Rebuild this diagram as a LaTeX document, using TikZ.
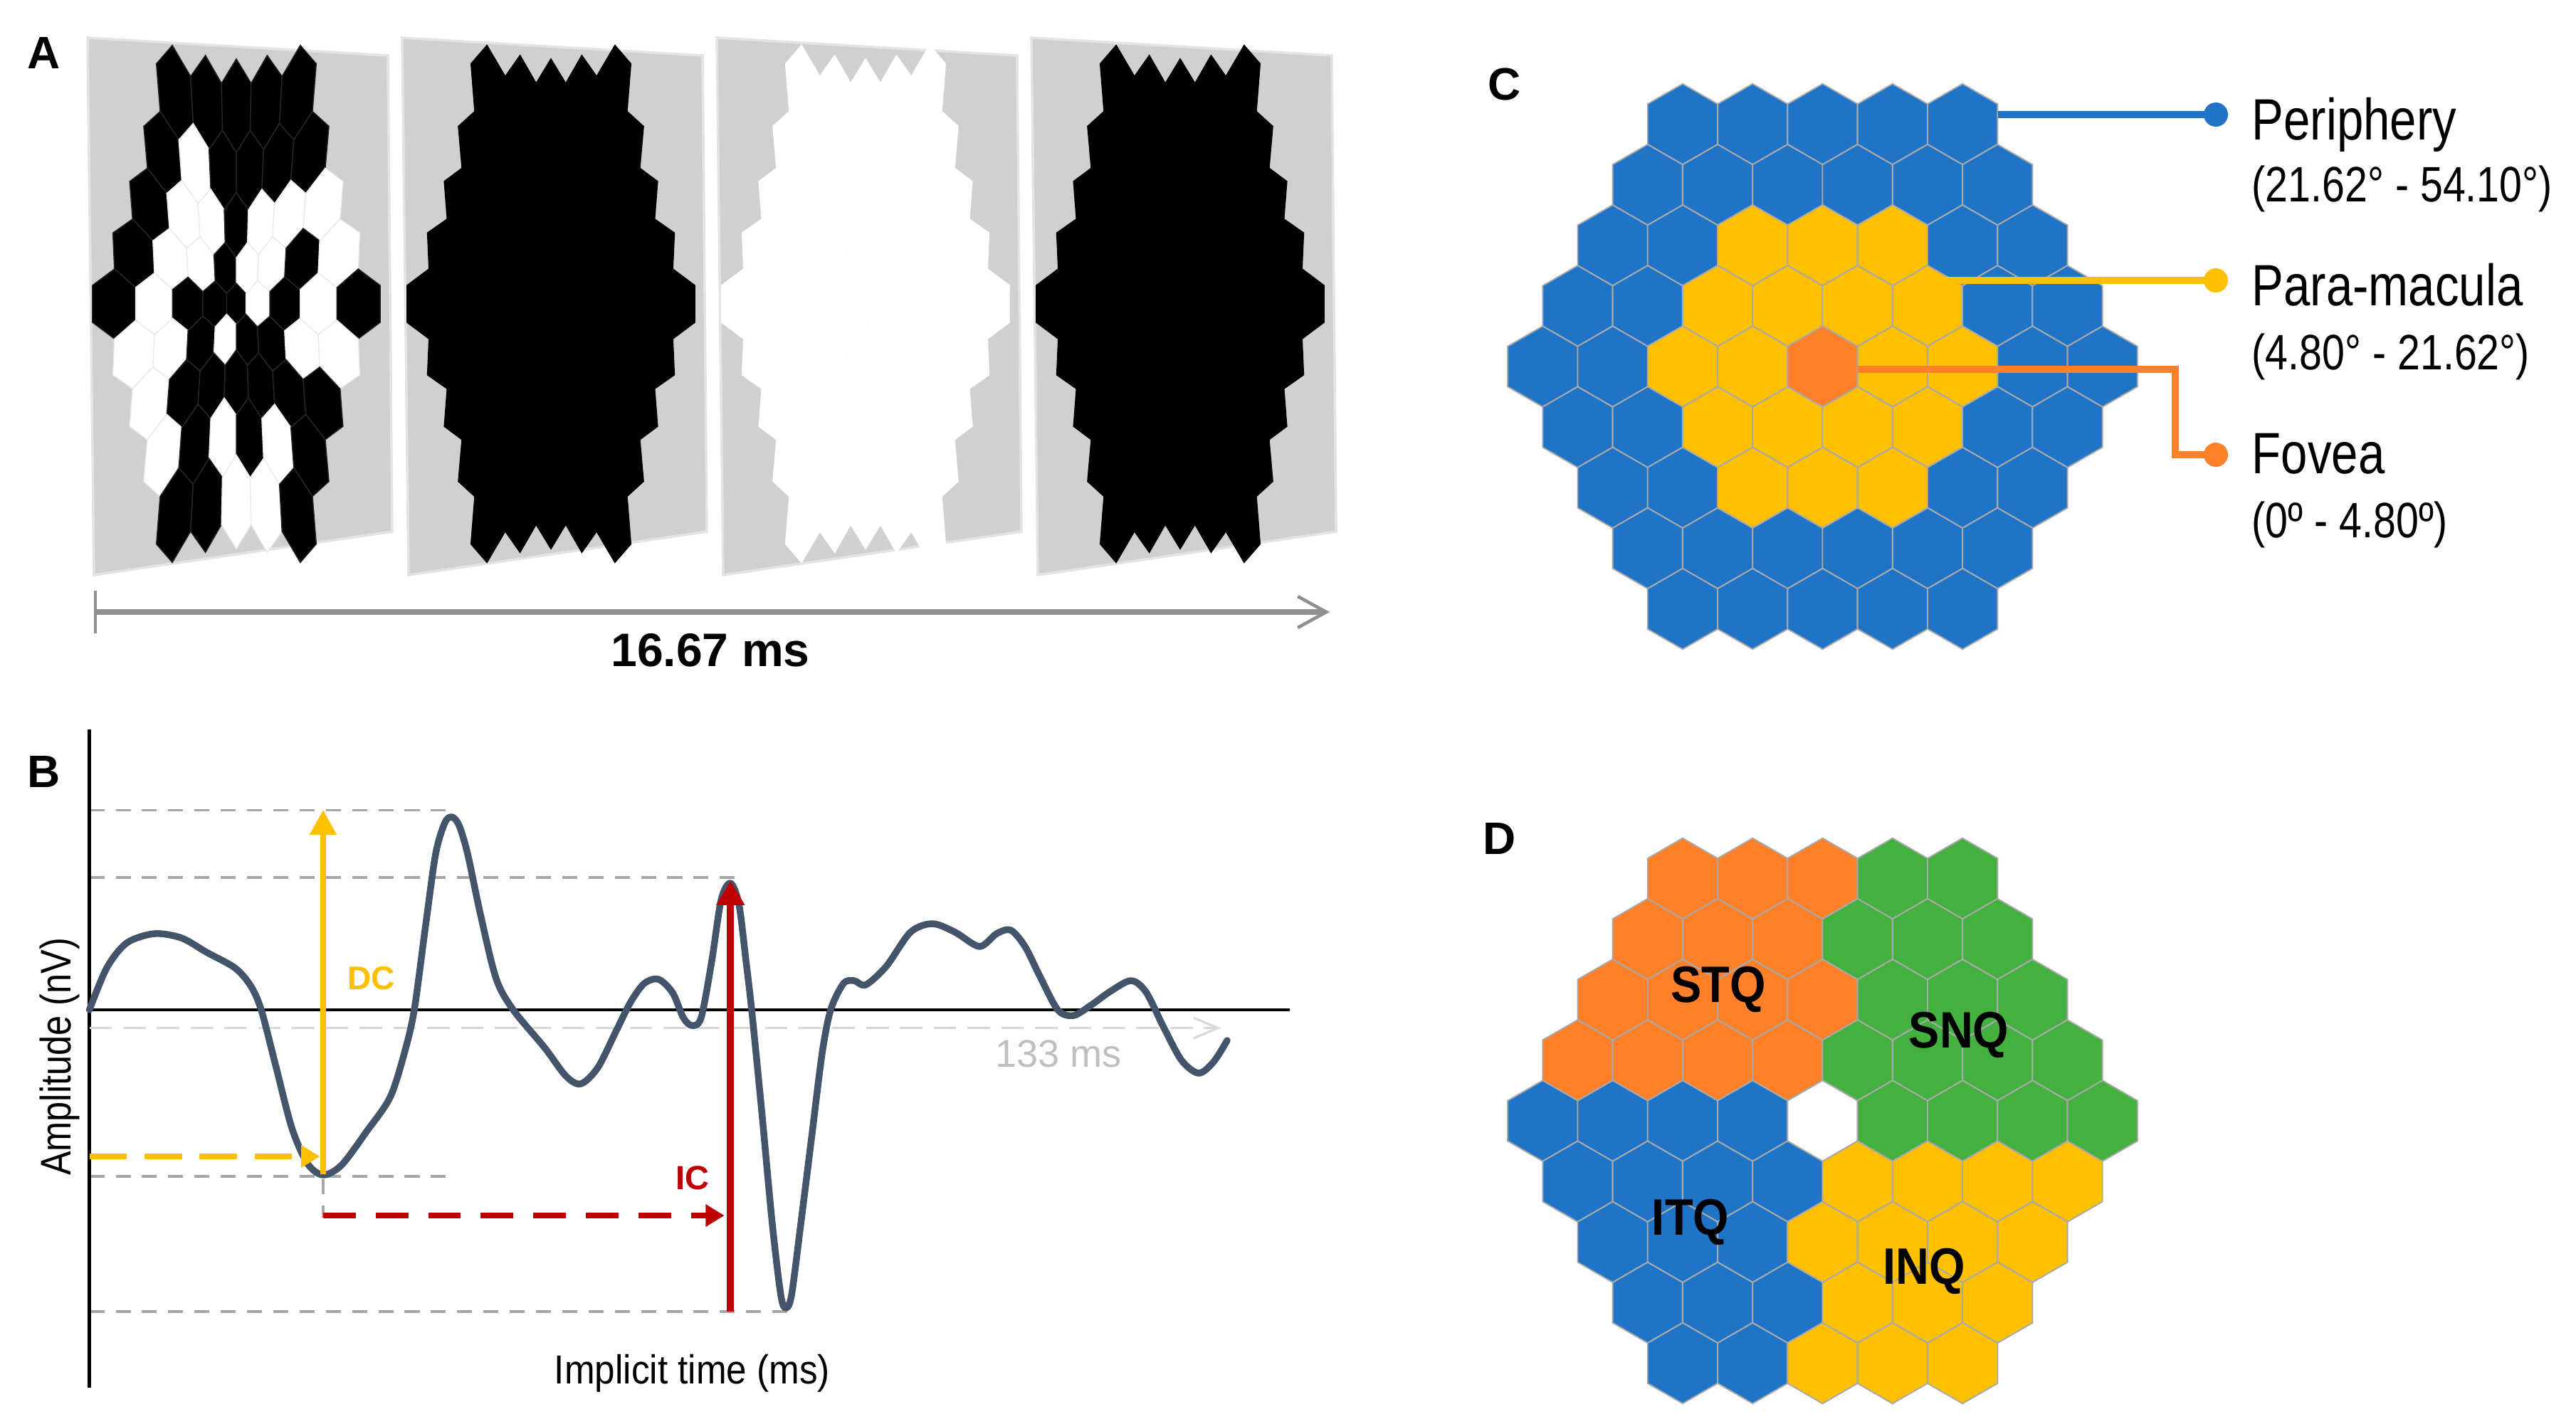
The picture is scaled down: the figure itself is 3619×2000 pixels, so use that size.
\documentclass[tikz,border=0pt]{standalone}
\usepackage{fontspec}
\setmainfont{Liberation Sans}
\newfontfamily\narrowA[FakeStretch=0.82]{Liberation Sans}
\newfontfamily\narrowB[FakeStretch=0.9]{Liberation Sans}
\newfontfamily\narrowC[FakeStretch=0.84]{Liberation Sans}
\usetikzlibrary{arrows.meta}
\definecolor{hb}{HTML}{2074C8}
\definecolor{hy}{HTML}{FFC000}
\definecolor{ho}{HTML}{FF8028}
\definecolor{hg}{HTML}{43B040}
\definecolor{hw}{HTML}{FFFFFF}
\definecolor{hexline}{HTML}{A9A9A9}
\definecolor{fB}{HTML}{000000}
\definecolor{fW}{HTML}{FFFFFF}
\definecolor{sB}{HTML}{262626}
\definecolor{sW}{HTML}{EBEBEB}
\definecolor{frgray}{HTML}{D0D0D0}
\definecolor{frborder}{HTML}{E4E4E4}
\definecolor{curvecol}{HTML}{44546A}
\definecolor{dcyel}{HTML}{FFC000}
\definecolor{icred}{HTML}{C00000}
\definecolor{dashgray}{HTML}{A6A6A6}
\definecolor{lightarr}{HTML}{D9D9D9}
\definecolor{msgray}{HTML}{BFBFBF}
\definecolor{timegray}{HTML}{8F8F8F}
\newcommand\fsz[1]{\fontsize{#1}{#1}\selectfont}
% distorted stimulus hexagon: #1 centre x, #2 #3 unit-grid centre, #4 fill, #5 seam
\newcommand{\fhex}[5]{%
 \path[fill=#4,draw=#5,line width=0.4pt]
  ({#1+fmx(#2,#3-1)},{427+fmy(#2,#3-1)}) --
  ({#1+fmx(#2+0.866,#3-0.5)},{427+fmy(#2+0.866,#3-0.5)}) --
  ({#1+fmx(#2+0.866,#3+0.5)},{427+fmy(#2+0.866,#3+0.5)}) --
  ({#1+fmx(#2,#3+1)},{427+fmy(#2,#3+1)}) --
  ({#1+fmx(#2-0.866,#3+0.5)},{427+fmy(#2-0.866,#3+0.5)}) --
  ({#1+fmx(#2-0.866,#3-0.5)},{427+fmy(#2-0.866,#3-0.5)}) -- cycle;}
% regular hexagon
\newcommand{\rhex}[3]{%
 \path[fill=#3,draw=hexline,line width=0.55pt]
  ({#1},{#2-56.75}) -- ({#1+49.15},{#2-28.375}) -- ({#1+49.15},{#2+28.375}) --
  ({#1},{#2+56.75}) -- ({#1-49.15},{#2+28.375}) -- ({#1-49.15},{#2-28.375}) -- cycle;}
\tikzset{
  gdash/.style={dashgray, line width=1pt, dash pattern=on 6pt off 4.5pt},
  plab/.style={font=\bfseries\fsz{18.2pt}, anchor=base, inner sep=0pt},
  legA/.style={font=\narrowA\fsz{23.3pt}, anchor=base west, inner sep=0pt},
  legB/.style={font=\narrowA\fsz{19.9pt}, anchor=base west, inner sep=0pt},
  quad/.style={font=\narrowB\bfseries\fsz{20.5pt}, anchor=base, inner sep=0pt},
  legdot/.style={circle, inner sep=0pt, minimum size=3.4mm},
}
\begin{document}
\begin{tikzpicture}[x=0.1mm,y=-0.1mm,
  declare function={fmx(\a,\b)=\a*(14.12+1.514*veclen(\a,\b));
                    fmy(\a,\b)=\b*(25.6+3.37*veclen(\a,\b));}]
\useasboundingbox (0,0) rectangle (3619,2000);

% ---------------- Panel A ----------------
\node[plab] (labA) at (62,96) {A};
\foreach \k in {0,1,2,3} {
  \pgfmathsetmacro\dx{442*\k}
  \path[fill=frgray,draw=frborder,line width=1pt]
    ({123+\dx},53) -- ({545+\dx},78) -- ({551+\dx},747) -- ({132+\dx},808) -- cycle;
}
% frame 1: black/white pattern
\foreach \r/\cols in {0/{B,B,B,B,B},1/{B,W,B,B,B,B},2/{B,W,W,B,W,W,W},
   3/{B,W,W,B,W,W,B,W},4/{B,W,B,B,B,W,B,W,B},5/{W,W,B,W,B,B,W,W},
   6/{W,B,B,B,B,B,B},7/{W,B,W,B,W,B},8/{B,B,W,W,B}} {
  \foreach \c [count=\i from 0] in \cols {
    \pgfmathsetmacro\n{9-abs(\r-4)}
    \pgfmathsetmacro\ux{1.7320508*(\i-(\n-1)/2)}
    \pgfmathsetmacro\uy{1.5*(\r-4)}
    \fhex{332}{\ux}{\uy}{f\c}{s\c}
  }
}
% frames 2-4: uniform
\foreach \k/\col in {1/fB,2/fW,3/fB} {
  \pgfmathsetmacro\Xc{332+442*\k}
  \foreach \r in {0,...,8} {
    \pgfmathtruncatemacro\nm{8-abs(\r-4)}
    \foreach \i in {0,...,\nm} {
      \pgfmathsetmacro\ux{1.7320508*(\i-\nm/2)}
      \pgfmathsetmacro\uy{1.5*(\r-4)}
      \fhex{\Xc}{\ux}{\uy}{\col}{\col}
    }
  }
}
\coordinate (t0) at (134,860);
\coordinate (t1) at (1868,860);
\draw[timegray, line width=2.2pt, -{Straight Barb[length=11.4pt,width=12.5pt,line width=1.3pt]}] (t0) -- (t1);
\draw[timegray, line width=1pt] (134,830) -- (134,890);
\node[font=\bfseries\fsz{18.8pt}, anchor=base, inner sep=0pt] (tlab) at (998,936) {16.67 ms};

% ---------------- Panel B ----------------
\node[plab] (labB) at (62,1106) {B};
\draw[gdash] (125.6,1138.4) -- (637.8,1138.4);
\draw[gdash] (125.6,1232.8) -- (1046,1232.8);
\draw[gdash] (125.6,1653) -- (634.6,1653);
\draw[gdash] (125.6,1843) -- (1118,1843);
\draw[gdash] (454,1657) -- (454,1711);
\coordinate (axT) at (125.6,1025);
\coordinate (axB) at (125.6,1950);
\coordinate (bl0) at (125.6,1419);
\coordinate (bl1) at (1812,1419);
\draw[black, line width=1.2pt] (axT) -- (axB);
\draw[black, line width=1.2pt] (bl0) -- (bl1);
\coordinate (la0) at (125.6,1444.5);
\coordinate (la1) at (1715,1444.5);
\draw[lightarr, line width=0.9pt, dash pattern=on 9pt off 4.5pt,
      -{Straight Barb[length=9.7pt,width=8.2pt]}] (la0) -- (la1);
\node[font=\fsz{15.4pt}, text=msgray, anchor=base, inner sep=0pt] (ms) at (1487,1499) {133 ms};
\draw[curvecol, line width=2.7pt, line join=round, line cap=round]
  plot[smooth, tension=0.5] coordinates {
  (125.6,1419) (150,1360) (178,1325) (216.8,1312) (255,1318) (290,1338) (330,1360)
  (352,1385) (367,1419) (388,1500) (410,1585) (432,1635) (454,1651) (480,1637)
  (515,1590) (548,1542) (568,1480) (582,1419) (598,1300) (612,1200) (625,1156)
  (635,1148) (645,1160) (657,1200) (675,1285) (697,1375) (721,1419) (765,1472)
  (795,1512) (816,1523) (840,1500) (865,1450) (886,1408) (905,1382) (925,1376)
  (945,1395) (960,1430) (972,1441) (985,1430) (1000,1350) (1013,1265) (1026,1241)
  (1038,1270) (1048,1350) (1056,1419) (1070,1560) (1085,1720) (1097,1820)
  (1104,1838) (1112,1820) (1125,1720) (1140,1600) (1155,1480) (1167,1419)
  (1185,1382) (1200,1378) (1216,1384) (1245,1358) (1279,1310) (1310,1298)
  (1342,1310) (1376,1330) (1400,1312) (1420,1307) (1440,1330) (1460,1370)
  (1486,1419) (1508,1427) (1532,1413) (1560,1393) (1589,1378) (1610,1394)
  (1635,1444) (1660,1490) (1684,1508) (1705,1492) (1724,1462)};
\coordinate (dcB) at (454,1650);
\coordinate (dcT) at (454,1138);
\draw[dcyel, line width=2.1pt, -{Triangle[width=10.4pt,length=10pt]}] (dcB) -- (dcT);
\coordinate (dy0) at (125.6,1625);
\coordinate (dy1) at (449.6,1625);
\draw[dcyel, line width=2.2pt, dash pattern=on 15pt off 7pt, -{Triangle[width=8.5pt,length=7.5pt]}] (dy0) -- (dy1);
\coordinate (dr0) at (454,1708);
\coordinate (dr1) at (1017.7,1708);
\draw[icred, line width=2.2pt, dash pattern=on 13pt off 8pt, -{Triangle[width=8.5pt,length=7.5pt]}] (dr0) -- (dr1);
\coordinate (icB) at (1026.3,1843);
\coordinate (icT) at (1026.3,1237.8);
\draw[icred, line width=2.9pt, -{Triangle[width=10.8pt,length=9.7pt]}] (icB) -- (icT);
\node[font=\bfseries\fsz{13.1pt}, text=dcyel, anchor=base, inner sep=0pt] (dc) at (521.7,1390) {DC};
\node[font=\bfseries\fsz{13.4pt}, text=icred, anchor=base, inner sep=0pt] (ic) at (973,1671) {IC};
\node[font=\narrowB\fsz{16.2pt}, anchor=base, inner sep=0pt] (xlab) at (972.5,1944) {Implicit time (ms)};
\node[font=\narrowC\fsz{17.1pt}, rotate=90, anchor=base, inner sep=0pt] (ylab) at (99,1485) {Amplitude (nV)};

% ---------------- Panel C ----------------
\node[plab] (labC) at (2114,140) {C};
\foreach \r/\cols in {0/{b,b,b,b,b},1/{b,b,b,b,b,b},2/{b,b,y,y,y,b,b},
   3/{b,b,y,y,y,y,b,b},4/{b,b,y,y,o,y,y,b,b},5/{b,b,y,y,y,y,b,b},
   6/{b,b,y,y,y,b,b},7/{b,b,b,b,b,b},8/{b,b,b,b,b}} {
  \foreach \c [count=\i from 0] in \cols {
    \pgfmathsetmacro\n{9-abs(\r-4)}
    \pgfmathsetmacro\hx{2560.5+98.3*(\i-(\n-1)/2)}
    \pgfmathsetmacro\hy{515+85.125*(\r-4)}
    \rhex{\hx}{\hy}{h\c}
  }
}
\node[legdot, fill=hb] (dotP) at (3113,161) {};
\node[legdot, fill=hy] (dotM) at (3113,394) {};
\node[legdot, fill=ho] (dotF) at (3113,639) {};
\coordinate (cP) at (2807,161);
\coordinate (cM) at (2732,394);
\coordinate (cF) at (2609.6,519);
\coordinate (cFk) at (3056,519);
\draw[hb, line width=2.6pt] (cP) -- (dotP.center);
\draw[hy, line width=2.6pt] (cM) -- (dotM.center);
\draw[ho, line width=2.6pt, line join=miter] (cF) -- (cFk) |- (dotF.center);
\node[legA] (tP) at (3163,196) {Periphery};
\node[legB] (tP2) at (3163,283) {(21.62° - 54.10°)};
\node[legA] (tM) at (3163,429) {Para-macula};
\node[legB] (tM2) at (3163,519) {(4.80° - 21.62°)};
\node[legA] (tF) at (3163,665) {Fovea};
\node[legB] (tF2) at (3163,755) {(0º - 4.80º)};

% ---------------- Panel D ----------------
\node[plab] (labD) at (2107,1200) {D};
\foreach \r/\cols in {0/{o,o,o,g,g},1/{o,o,o,g,g,g},2/{o,o,o,o,g,g,g},
   3/{o,o,o,o,g,g,g,g},4/{b,b,b,b,w,g,g,g,g},5/{b,b,b,b,y,y,y,y},
   6/{b,b,b,y,y,y,y},7/{b,b,b,y,y,y},8/{b,b,y,y,y}} {
  \foreach \c [count=\i from 0] in \cols {
    \pgfmathsetmacro\n{9-abs(\r-4)}
    \pgfmathsetmacro\hx{2560.5+98.3*(\i-(\n-1)/2)}
    \pgfmathsetmacro\hy{1575+85.125*(\r-4)}
    \rhex{\hx}{\hy}{h\c}
  }
}
\fill[white] (2560.5,1575) ++(0,-55) -- ++(47.6,27.5) -- ++(0,55) -- ++(-47.6,27.5) -- ++(-47.6,-27.5) -- ++(0,-55) -- cycle;
\node[quad] (stq) at (2414,1408) {STQ};
\node[quad] (snq) at (2752,1472) {SNQ};
\node[quad] (itq) at (2375,1735) {ITQ};
\node[quad] (inq) at (2703,1804) {INQ};
\end{tikzpicture}
\end{document}
